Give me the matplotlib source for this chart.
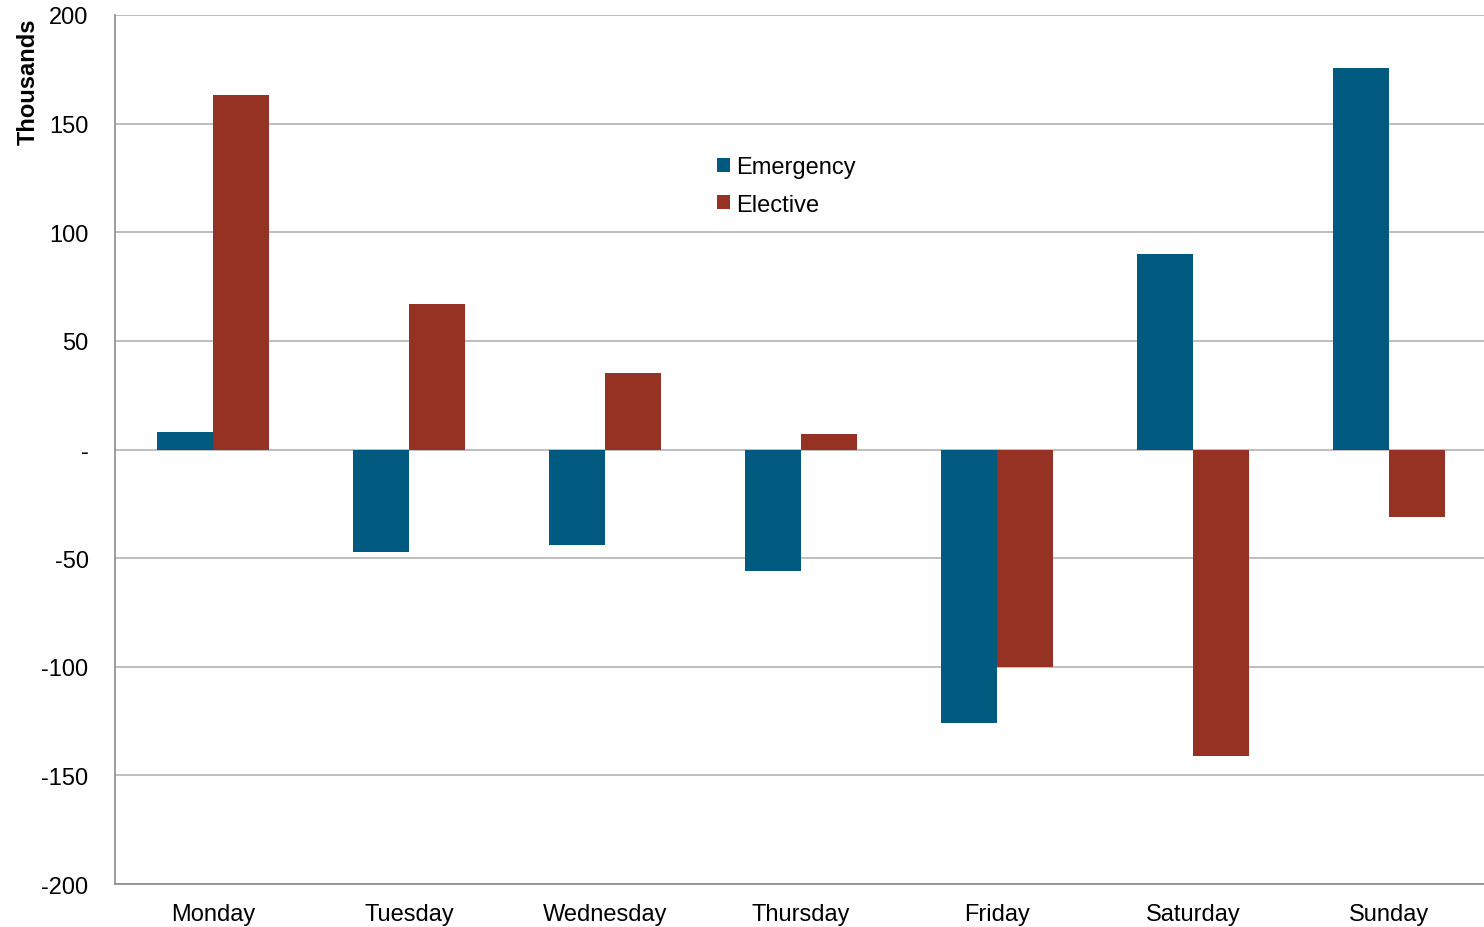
import matplotlib.pyplot as plt
import numpy as np

plt.rcParams['font.family'] = ['Liberation Sans', 'DejaVu Sans']

days = ['Monday', 'Tuesday', 'Wednesday', 'Thursday', 'Friday', 'Saturday', 'Sunday']
emergency = [8, -47, -44, -56, -126, 90, 175.5]
elective = [163, 67, 35, 7, -100, -141, -31]
yticks = [-200, -150, -100, -50, 0, 50, 100, 150, 200]
ytick_labels = ['-200', '-150', '-100', '-50', '-', '50', '100', '150', '200']

fig = plt.figure(figsize=(14.84, 9.28), dpi=100)
ax = fig.add_axes([115 / 1484, 1 - 885 / 928, 1372 / 1484, 869 / 928])

x = np.arange(len(days))
w = 0.285
ax.bar(x - w / 2, emergency, w, color='#005a80', label='Emergency', zorder=3)
ax.bar(x + w / 2, elective, w, color='#963224', label='Elective', zorder=3)

ax.set_xlim(-0.5, 6.5)
ax.set_ylim(-200, 200)
ax.set_yticks(yticks)
ax.set_yticklabels(ytick_labels)
ax.set_xticks(x)
ax.set_xticklabels(days)
ax.tick_params(length=0, labelsize=17)
ax.tick_params(axis='x', pad=14)
ax.tick_params(axis='y', pad=19)

ax.grid(axis='y', color='#b3b3b3', linewidth=1.2, zorder=0)
for s in ['top', 'right']:
    ax.spines[s].set_visible(False)
ax.spines['left'].set_color('#8c8c8c')
ax.spines['bottom'].set_color('#8c8c8c')
ax.spines['left'].set_linewidth(1.2)
ax.spines['bottom'].set_linewidth(1.2)

ax.set_ylabel('Thousands', fontsize=17, fontweight='bold')
ax.yaxis.set_label_coords(-0.055, 0.924)

ax.legend(loc='upper left', bbox_to_anchor=(0.4235, 0.862), frameon=False, fontsize=17,
          handlelength=0.55, handleheight=0.55, handletextpad=0.25, labelspacing=0.65)

fig.savefig('out.png', dpi=100)
